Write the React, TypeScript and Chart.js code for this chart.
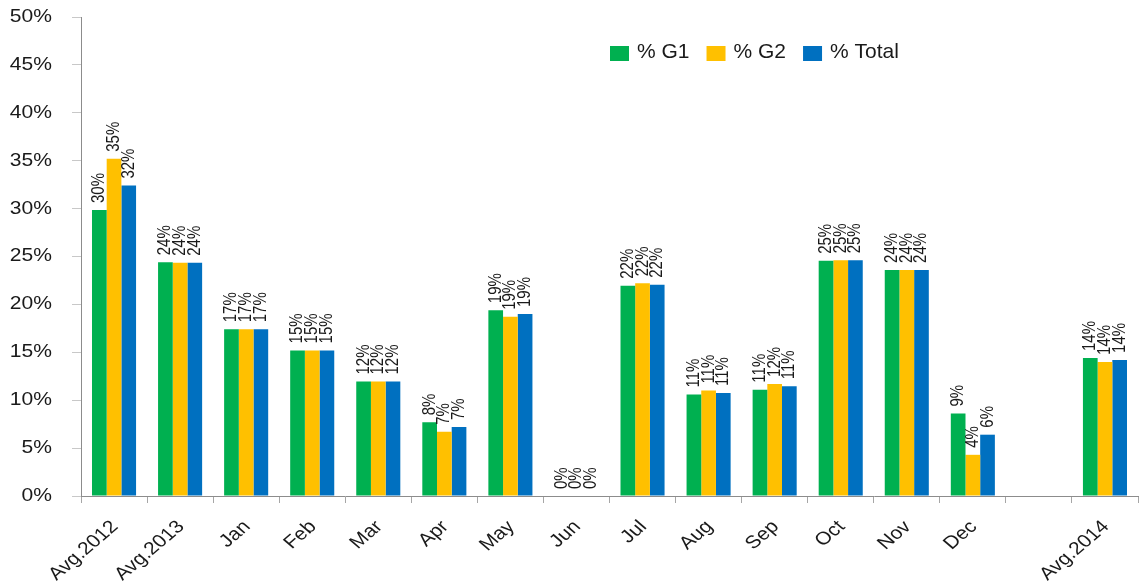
import { useEffect, useRef } from 'react';
import { Chart, registerables } from 'chart.js';

Chart.register(...registerables);

const categories = ['Avg.2012', 'Avg.2013', 'Jan', 'Feb', 'Mar', 'Apr', 'May', 'Jun', 'Jul', 'Aug', 'Sep', 'Oct', 'Nov', 'Dec', '', 'Avg.2014'];
const g1 = [29.85, 24.4, 17.4, 15.2, 11.95, 7.7, 19.4, 0, 21.95, 10.6, 11.1, 24.55, 23.6, 8.6, null, 14.4];
const g2 = [35.2, 24.35, 17.4, 15.2, 11.95, 6.7, 18.7, 0, 22.2, 11.0, 11.7, 24.6, 23.6, 4.3, null, 14.0];
const total = [32.4, 24.35, 17.4, 15.2, 11.95, 7.2, 19.0, 0, 22.05, 10.75, 11.45, 24.6, 23.6, 6.4, null, 14.2];
const seriesNames = ['% G1', '% G2', '% Total'];
const seriesColors = ['#00B050', '#FFC000', '#0070C0'];
const yMin = 0;
const yMax = 50;
const yStep = 5;

const FONT = '"Liberation Sans", Arial, Helvetica, sans-serif';
const TEXT = '#1a1a1a';
const STRETCH = 1.17;

const textPlugin = {
  id: 'customText',
  afterDraw(chart: any) {
    const ctx = chart.ctx as CanvasRenderingContext2D;
    // data labels
    chart.data.datasets.forEach((ds: any, di: number) => {
      const meta = chart.getDatasetMeta(di);
      meta.data.forEach((bar: any, i: number) => {
        const v = ds.data[i];
        if (v == null) return;
        const { x, y } = bar.getProps(['x', 'y'], true);
        ctx.save();
        ctx.translate(x, y - 7);
        ctx.rotate(-Math.PI / 2);
        ctx.scale(1, 1.2);
        ctx.font = `15px ${FONT}`;
        ctx.fillStyle = TEXT;
        ctx.textAlign = 'left';
        ctx.textBaseline = 'middle';
        ctx.fillText(`${Math.round(v)}%`, 0, 0);
        ctx.restore();
      });
    });

    // y tick labels
    const ys = chart.scales.y;
    ys.ticks.forEach((t: any) => {
      const py = ys.getPixelForValue(t.value);
      ctx.save();
      ctx.translate(52, py);
      ctx.scale(STRETCH, 1);
      ctx.font = `18px ${FONT}`;
      ctx.fillStyle = TEXT;
      ctx.textAlign = 'right';
      ctx.textBaseline = 'middle';
      ctx.fillText(`${t.value}%`, 0, 0);
      ctx.restore();
    });

    // x tick labels
    const xs = chart.scales.x;
    const bottom = chart.chartArea.bottom;
    chart.data.labels.forEach((lab: string, i: number) => {
      if (!lab) return;
      const px = xs.getPixelForTick(i);
      ctx.save();
      ctx.translate(px + 1, bottom + 28);
      ctx.scale(STRETCH, 1);
      ctx.rotate(-Math.PI / 4);
      ctx.font = `18px ${FONT}`;
      ctx.fillStyle = TEXT;
      ctx.textAlign = 'right';
      ctx.textBaseline = 'middle';
      ctx.fillText(lab, 0, 0);
      ctx.restore();
    });

    // legend
    ctx.save();
    ctx.font = `21px ${FONT}`;
    let lx = 610;
    chart.data.datasets.forEach((ds: any) => {
      ctx.fillStyle = ds.backgroundColor;
      ctx.fillRect(lx, 46, 19, 15);
      ctx.fillStyle = TEXT;
      ctx.textAlign = 'left';
      ctx.textBaseline = 'alphabetic';
      const tx = lx + 27;
      ctx.fillText(ds.label, tx, 57.5);
      lx = tx + ctx.measureText(ds.label).width + 17;
    });
    ctx.restore();
  },
};

export default function App() {
  const ref = useRef<HTMLCanvasElement | null>(null);

  useEffect(() => {
    document.body.style.margin = '0';
    const canvas = ref.current;
    if (!canvas) return;
    const series = [g1, g2, total];
    const chart = new Chart(canvas, {
      type: 'bar',
      data: {
        labels: categories,
        datasets: series.map((d, i) => ({
          label: seriesNames[i],
          data: d,
          backgroundColor: seriesColors[i],
          borderWidth: 0,
          categoryPercentage: 0.667,
          barPercentage: 1.0,
        })),
      },
      options: {
        animation: false,
        responsive: false,
        maintainAspectRatio: false,
        layout: { padding: { top: 17, right: 3, left: 0, bottom: 0 } },
        plugins: {
          legend: { display: false },
          tooltip: { enabled: false },
        },
        scales: {
          x: {
            offset: true,
            grid: {
              display: true,
              drawOnChartArea: false,
              drawTicks: true,
              tickLength: 7,
              color: '#a6a6a6',
              offset: true,
            },
            border: { display: true, color: '#8c8c8c', width: 1 },
            ticks: { display: false, autoSkip: false },
            afterFit: (s: any) => {
              s.height = 87;
            },
          },
          y: {
            min: yMin,
            max: yMax,
            ticks: { display: false, stepSize: yStep },
            grid: {
              display: true,
              drawOnChartArea: false,
              drawTicks: true,
              tickLength: 9,
              color: '#c8c8c8',
            },
            border: { display: true, color: '#8c8c8c', width: 1 },
            afterFit: (s: any) => {
              s.width = 81;
            },
          },
        },
      },
      plugins: [textPlugin],
    });
    return () => chart.destroy();
  }, []);

  return (
    <div style={{ width: 1141, height: 583, background: '#fff' }}>
      <canvas ref={ref} width={1141} height={583} style={{ display: 'block' }} />
    </div>
  );
}
